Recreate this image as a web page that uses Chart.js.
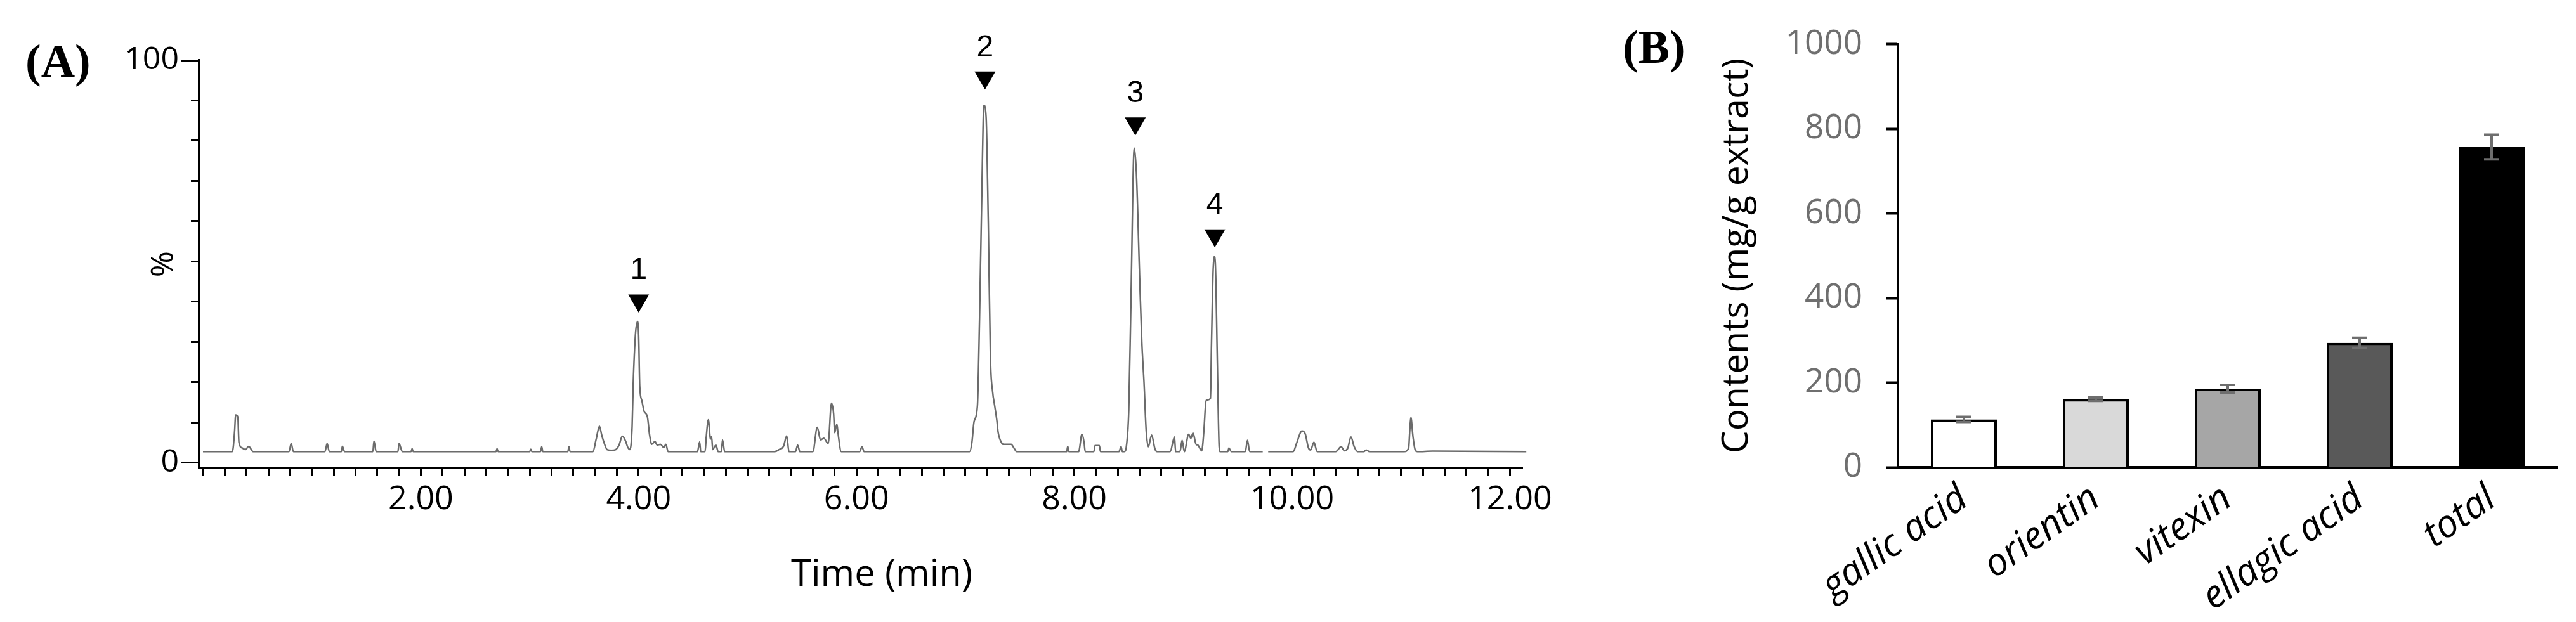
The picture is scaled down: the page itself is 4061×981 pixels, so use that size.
<!DOCTYPE html>
<html>
<head>
<meta charset="utf-8">
<script src="https://cdn.jsdelivr.net/npm/chart.js@4.4.1/dist/chart.umd.min.js"></script>
<style>
    html, body { margin: 0; padding: 0; background: #fff; }
    body { width: 4061px; height: 981px; position: relative; overflow: hidden; }
    .panel { position: absolute; top: 0; height: 981px; }
    #wrapA { left: 0; width: 2480px; }
    #wrapB { left: 2480px; width: 1581px; }
    .tag { position: absolute; font-family: 'Liberation Serif', serif; font-weight: bold; font-size: 74px; line-height: 74px; color: #000; }
</style>
</head>
<body>
<div class="panel" id="wrapA"><canvas id="chromChart"></canvas></div>
<div class="panel" id="wrapB"><canvas id="contentChart"></canvas></div>
<div class="tag" style="left:40px; top:59px;">(A)</div>
<div class="tag" style="left:2558px; top:37px;">(B)</div>
<script>
// (A) chromatogram: retention time (min) and relative intensity (%)
const retentionTimes = [
    0.00, 0.27, 0.29, 0.30, 0.32, 0.33, 0.36, 0.39, 0.42, 0.46,
    0.79, 0.81, 0.83, 1.12, 1.14, 1.16, 1.27, 1.28, 1.30, 1.56, 1.57, 1.59,
    1.79, 1.80, 1.83, 1.91, 1.92, 1.93, 2.69, 2.70, 2.71, 3.00, 3.01, 3.02,
    3.10, 3.11, 3.12, 3.35, 3.36, 3.37,
    3.58, 3.61, 3.64, 3.66, 3.68, 3.71, 3.75, 3.79, 3.82, 3.85, 3.88, 3.90, 3.92,
    3.94, 3.95, 3.97, 3.99, 4.00, 4.01, 4.03, 4.05, 4.08, 4.10, 4.12, 4.15, 4.17,
    4.20, 4.23, 4.25, 4.27,
    4.54, 4.56, 4.57, 4.61, 4.62, 4.64, 4.66, 4.67, 4.68, 4.71, 4.73, 4.76, 4.77, 4.79,
    5.25, 5.29, 5.33, 5.36, 5.38, 5.44, 5.46, 5.48,
    5.60, 5.64, 5.67, 5.70, 5.74, 5.77, 5.79, 5.80, 5.82, 5.83, 5.86,
    6.03, 6.05, 6.07,
    7.04, 7.06, 7.08, 7.11, 7.13, 7.15, 7.17, 7.19, 7.21, 7.23, 7.25, 7.27, 7.29,
    7.30, 7.33, 7.35, 7.42, 7.45, 7.47,
    7.93, 7.94, 7.95, 8.04, 8.07, 8.09, 8.10, 8.18, 8.19, 8.23, 8.24, 8.41, 8.43, 8.44,
    8.46, 8.48, 8.50, 8.52, 8.55, 8.57, 8.60, 8.62, 8.64, 8.66, 8.68, 8.71, 8.74, 8.76,
    8.88, 8.92, 8.93, 8.97, 8.99, 9.01, 9.05, 9.07, 9.09, 9.12, 9.13, 9.17,
    9.19, 9.21, 9.25, 9.26, 9.275, 9.29, 9.30, 9.31, 9.32, 9.33, 9.34,
    9.41, 9.42, 9.44, 9.57, 9.59, 9.61, 9.73, 9.75, 9.78,
    10.01, 10.04, 10.09, 10.12, 10.15, 10.17, 10.20, 10.23,
    10.40, 10.45, 10.48, 10.51, 10.54, 10.57, 10.60, 10.66, 10.68, 10.71,
    11.03, 11.07, 11.08, 11.09, 11.11, 11.13, 11.15, 11.29, 12.15
];
const intensities = [
    2.8, 2.8, 7.7, 11.9, 11.4, 5.1, 3.7, 3.3, 4.1, 2.8,
    2.8, 4.8, 2.8, 2.8, 4.8, 2.8, 2.8, 4.1, 2.8, 2.8, 5.4, 2.8,
    2.8, 4.8, 2.8, 2.8, 3.5, 2.8, 2.8, 3.5, 2.8, 2.8, 3.4, 2.8,
    2.8, 4.0, 2.8, 2.8, 4.0, 2.8,
    2.8, 5.9, 9.1, 7.0, 5.2, 3.3, 3.1, 3.3, 4.4, 6.6, 5.4, 3.85, 3.3,
    9.1, 19.6, 31.7, 35.1, 31.7, 19.1, 15.4, 12.8, 11.5, 7.0, 4.6, 5.3, 4.4,
    4.6, 3.85, 4.6, 2.8,
    2.8, 5.2, 2.8, 2.8, 6.2, 10.7, 5.9, 6.5, 3.3, 4.4, 2.8, 2.8, 5.7, 2.8,
    2.8, 3.3, 4.1, 6.7, 2.8, 2.8, 4.4, 2.8,
    2.8, 8.8, 5.7, 6.1, 4.8, 14.8, 12.2, 7.5, 9.6, 7.5, 2.8,
    2.8, 4.0, 2.8,
    2.8, 5.1, 10.3, 14.0, 36.0, 65.7, 88.8, 86.0, 60.0, 26.0, 17.7, 14.0, 10.3,
    7.7, 5.1, 4.6, 4.6, 3.5, 2.8,
    2.8, 4.1, 2.8, 2.8, 7.1, 5.1, 2.8, 2.8, 4.3, 4.3, 2.8, 2.8, 4.0, 2.8,
    2.8, 4.5, 13.0, 40.0, 78.2, 72.0, 46.0, 30.0, 20.0, 8.0, 4.0, 6.9, 3.5, 2.8,
    2.8, 6.4, 2.8, 2.8, 5.6, 2.8, 7.1, 6.1, 7.4, 4.5, 4.5, 3.0,
    8.0, 15.5, 16.0, 30.0, 48.0, 51.3, 45.0, 30.0, 15.0, 4.0, 2.8,
    2.8, 3.7, 2.8, 2.8, 5.6, 2.8, 2.8, null, 2.8,
    2.8, 4.8, 7.9, 7.2, 3.7, 3.2, 5.1, 2.8,
    2.8, 4.0, 3.0, 3.6, 6.4, 4.0, 2.8, 2.8, 3.2, 2.8,
    2.8, 3.7, 7.9, 11.3, 6.4, 3.2, 2.8, 2.9, 2.8
];

// peak markers
const peakNames = ['1', '2', '3', '4'];
const peakTimes = [4.00, 7.18, 8.56, 9.29];
const markerLevels = [40.3, 95.7, 84.3, 56.5];

// axis ticks of (A)
const percentTicks = [0, 10, 20, 30, 40, 50, 60, 70, 80, 90, 100];
const percentLabels = [0, 100];
const timeLabels = [2, 4, 6, 8, 10, 12];

// (B) contents
const compounds = ['gallic acid', 'orientin', 'vitexin', 'ellagic acid', 'total'];
const contents = [113, 161, 186, 294, 757];
const contentErrors = [6, 4, 9, 12, 29];
const barFills = ['#ffffff', '#d9d9d9', '#a6a6a6', '#595959', '#000000'];

Chart.defaults.font.family = "'Open Sans', sans-serif";
Chart.defaults.color = '#000';

const trace = retentionTimes.map((t, i) => ({ x: t, y: intensities[i] }));
const markers = peakTimes.map((t, i) => ({ x: t, y: markerLevels[i] }));

const timeTicks = [];
for (let k = 0; k <= 60; k++) timeTicks.push(Math.round(k * 2) / 10);

// numbers over the triangles
const peakNumbers = {
    id: 'peakNumbers',
    afterDatasetsDraw(chart) {
        const ctx = chart.ctx;
        const meta = chart.getDatasetMeta(1);
        ctx.save();
        ctx.fillStyle = '#000';
        ctx.font = "48px 'Liberation Sans', sans-serif";
        ctx.textAlign = 'center';
        ctx.textBaseline = 'middle';
        meta.data.forEach((pt, i) => {
            ctx.fillText(peakNames[i], pt.x, pt.y - 47);
        });
        ctx.restore();
    }
};

// x-axis caption, sits a bit right of centre in the original
const timeCaption = {
    id: 'timeCaption',
    afterDraw(chart) {
        const { ctx, chartArea } = chart;
        ctx.save();
        ctx.fillStyle = '#000';
        ctx.font = "58px 'Open Sans', sans-serif";
        ctx.textAlign = 'center';
        ctx.textBaseline = 'middle';
        ctx.fillText('Time (min)', (chartArea.left + chartArea.right) / 2 + 33, 907);
        ctx.restore();
    }
};

new Chart(document.getElementById('chromChart'), {
    type: 'line',
    data: {
        datasets: [
            {
                data: trace,
                borderColor: '#6b6b6b',
                borderWidth: 2.5,
                pointRadius: 0,
                spanGaps: false,
                cubicInterpolationMode: 'monotone',
                clip: false,
                order: 2
            },
            {
                data: markers,
                showLine: false,
                pointStyle: 'triangle',
                pointRotation: 180,
                pointRadius: 19,
                pointBackgroundColor: '#000',
                pointBorderWidth: 0,
                order: 1
            }
        ]
    },
    options: {
        responsive: true,
        maintainAspectRatio: false,
        animation: false,
        layout: { padding: { top: 95, right: 80, bottom: 0, left: 0 } },
        plugins: {
            legend: { display: false },
            tooltip: { enabled: false }
        },
        scales: {
            x: {
                type: 'linear',
                min: -0.035,
                max: 12.114,
                afterBuildTicks: s => { s.ticks = timeTicks.map(v => ({ value: v })); },
                afterFit: s => { s.height = 243; },
                border: { color: '#000', width: 4 },
                grid: { drawOnChartArea: false, tickLength: 13, tickColor: '#000', tickWidth: 3 },
                ticks: {
                    color: '#000',
                    font: { size: 52 },
                    padding: 6,
                    maxRotation: 0,
                    autoSkip: false,
                    callback: v => timeLabels.some(t => Math.abs(t - v) < 1e-6) ? v.toFixed(2) : ''
                }
            },
            y: {
                min: -1.26,
                max: 100,
                afterBuildTicks: s => { s.ticks = percentTicks.map(v => ({ value: v })); },
                afterFit: s => { s.width = 314; },
                border: { color: '#000', width: 4 },
                grid: {
                    drawOnChartArea: false,
                    tickLength: 28,
                    tickColor: '#000',
                    tickWidth: 3,
                    tickBorderDash: c => (c.tick && percentLabels.includes(c.tick.value)) ? [] : [0, 15, 20, 100]
                },
                ticks: {
                    color: '#000',
                    font: { size: 50 },
                    padding: 4,
                    autoSkip: false,
                    callback: v => percentLabels.includes(v) ? String(v) : ''
                },
                title: {
                    display: true,
                    text: '%',
                    color: '#000',
                    font: { size: 50 },
                    padding: { top: 229, bottom: 0 }
                }
            }
        }
    },
    plugins: [peakNumbers, timeCaption]
});

// error bars for (B)
const errorBars = {
    id: 'errorBars',
    afterDatasetsDraw(chart) {
        const ctx = chart.ctx;
        const yScale = chart.scales.y;
        const meta = chart.getDatasetMeta(0);
        ctx.save();
        ctx.strokeStyle = '#6e6e6e';
        ctx.lineWidth = 4;
        meta.data.forEach((bar, i) => {
            const hi = yScale.getPixelForValue(contents[i] + contentErrors[i]);
            const lo = yScale.getPixelForValue(contents[i] - contentErrors[i]);
            ctx.beginPath();
            ctx.moveTo(bar.x, hi);
            ctx.lineTo(bar.x, lo);
            ctx.moveTo(bar.x - 12, hi);
            ctx.lineTo(bar.x + 12, hi);
            ctx.moveTo(bar.x - 12, lo);
            ctx.lineTo(bar.x + 12, lo);
            ctx.stroke();
        });
        ctx.restore();
    }
};

new Chart(document.getElementById('contentChart'), {
    type: 'bar',
    data: {
        labels: compounds,
        datasets: [{
            data: contents,
            backgroundColor: barFills,
            borderColor: '#000',
            borderWidth: 4,
            barPercentage: 0.5,
            categoryPercentage: 1.0
        }]
    },
    options: {
        responsive: true,
        maintainAspectRatio: false,
        animation: false,
        layout: { padding: { top: 58, right: 29, bottom: 0, left: 0 } },
        plugins: {
            legend: { display: false },
            tooltip: { enabled: false }
        },
        scales: {
            x: {
                afterFit: s => { s.height = 244; },
                border: { color: '#000', width: 4 },
                grid: { display: false, drawTicks: false },
                ticks: {
                    color: '#000',
                    font: { size: 60, style: 'italic' },
                    minRotation: 35,
                    maxRotation: 35,
                    autoSkip: false,
                    padding: 14
                }
            },
            y: {
                min: 0,
                max: 1000,
                afterFit: s => { s.width = 512; },
                border: { color: '#000', width: 4 },
                grid: { drawOnChartArea: false, tickLength: 18, tickColor: '#000', tickWidth: 4 },
                ticks: {
                    stepSize: 200,
                    color: '#6f6f6f',
                    font: { size: 53 },
                    padding: 38,
                    callback: v => String(v)
                },
                title: {
                    display: true,
                    text: 'Contents (mg/g extract)',
                    color: '#000',
                    font: { size: 57 },
                    padding: { top: 225, bottom: 0 }
                }
            }
        }
    },
    plugins: [errorBars]
});
</script>
</body>
</html>
